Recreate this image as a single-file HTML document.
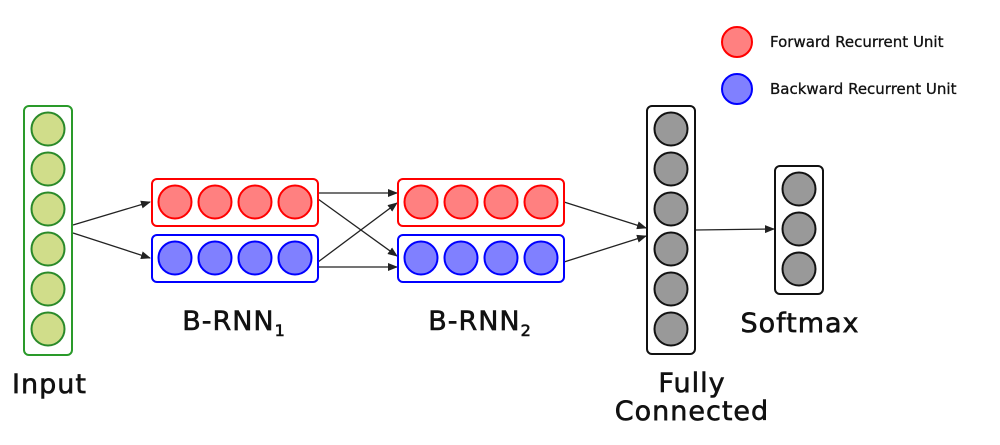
<!DOCTYPE html>
<html><head><style>body{margin:0;background:#fff}svg{display:block}</style></head><body>
<svg width="1000" height="445" viewBox="0 0 1000 445" xmlns="http://www.w3.org/2000/svg" font-family="'DejaVu Sans','Liberation Sans',sans-serif">
<defs><marker id="a" markerWidth="10" markerHeight="8" refX="9" refY="4" orient="auto" markerUnits="userSpaceOnUse"><path d="M0,0 L10,4 L0,8 Z" fill="#222"/></marker></defs>
<g stroke="#222" stroke-width="1.3" marker-end="url(#a)">
<line x1="73" y1="225" x2="150" y2="202"/>
<line x1="73" y1="233" x2="150" y2="258"/>
<line x1="318" y1="193" x2="397" y2="193"/>
<line x1="318" y1="199" x2="397" y2="256"/>
<line x1="318" y1="262" x2="397" y2="203"/>
<line x1="318" y1="267" x2="397" y2="267"/>
<line x1="564" y1="202" x2="646" y2="228"/>
<line x1="564" y1="262" x2="646" y2="236"/>
<line x1="695" y1="230" x2="774" y2="229"/>
</g>
<rect x="24" y="106" width="48" height="249" rx="5" fill="none" stroke="#2a9a2a" stroke-width="2"/>
<g fill="#d0dd8a" stroke="#2a8a2a" stroke-width="2">
<circle cx="48" cy="129" r="16.5"/><circle cx="48" cy="169" r="16.5"/><circle cx="48" cy="209" r="16.5"/><circle cx="48" cy="249" r="16.5"/><circle cx="48" cy="289" r="16.5"/><circle cx="48" cy="329" r="16.5"/>
</g>
<g stroke-width="2">
<rect x="152" y="179" width="166" height="47" rx="5" fill="none" stroke="#f00"/>
<rect x="152" y="235" width="166" height="47" rx="5" fill="none" stroke="#00f"/>
<rect x="398" y="179" width="166" height="47" rx="5" fill="none" stroke="#f00"/>
<rect x="398" y="235" width="166" height="47" rx="5" fill="none" stroke="#00f"/>
<g fill="#ff8080" stroke="#f00">
<circle cx="175" cy="202" r="16.5"/><circle cx="215" cy="202" r="16.5"/><circle cx="255" cy="202" r="16.5"/><circle cx="295" cy="202" r="16.5"/>
<circle cx="421" cy="202" r="16.5"/><circle cx="461" cy="202" r="16.5"/><circle cx="501" cy="202" r="16.5"/><circle cx="541" cy="202" r="16.5"/>
<circle cx="737" cy="42" r="15"/>
</g>
<g fill="#8080ff" stroke="#00f">
<circle cx="175" cy="258" r="16.5"/><circle cx="215" cy="258" r="16.5"/><circle cx="255" cy="258" r="16.5"/><circle cx="295" cy="258" r="16.5"/>
<circle cx="421" cy="258" r="16.5"/><circle cx="461" cy="258" r="16.5"/><circle cx="501" cy="258" r="16.5"/><circle cx="541" cy="258" r="16.5"/>
<circle cx="737" cy="89" r="15"/>
</g>
<rect x="647" y="106" width="48" height="248" rx="5" fill="none" stroke="#111"/>
<rect x="775" y="166" width="48" height="128" rx="5" fill="none" stroke="#111"/>
<g fill="#999" stroke="#111">
<circle cx="671" cy="129" r="16.5"/><circle cx="671" cy="169" r="16.5"/><circle cx="671" cy="209" r="16.5"/><circle cx="671" cy="249" r="16.5"/><circle cx="671" cy="289" r="16.5"/><circle cx="671" cy="329" r="16.5"/>
<circle cx="799" cy="189" r="16.5"/><circle cx="799" cy="229" r="16.5"/><circle cx="799" cy="269" r="16.5"/>
</g>
</g>
<g fill="#111" font-size="15" stroke="#111" stroke-width="0.3">
<text x="770" y="47">Forward Recurrent Unit</text>
<text x="770" y="94">Backward Recurrent Unit</text>
</g>
<g fill="#111" font-size="27" stroke="#111" stroke-width="0.6" letter-spacing="1">
<text x="234" y="330" text-anchor="middle">B-RNN<tspan font-size="16" dy="6">1</tspan></text>
<text x="480" y="330" text-anchor="middle">B-RNN<tspan font-size="16" dy="6">2</tspan></text>
<text x="12" y="393">Input</text>
<text x="692" y="392" text-anchor="middle">Fully</text>
<text x="692" y="420" text-anchor="middle">Connected</text>
<text x="800" y="332" text-anchor="middle">Softmax</text>
</g>
</svg>
</body></html>
